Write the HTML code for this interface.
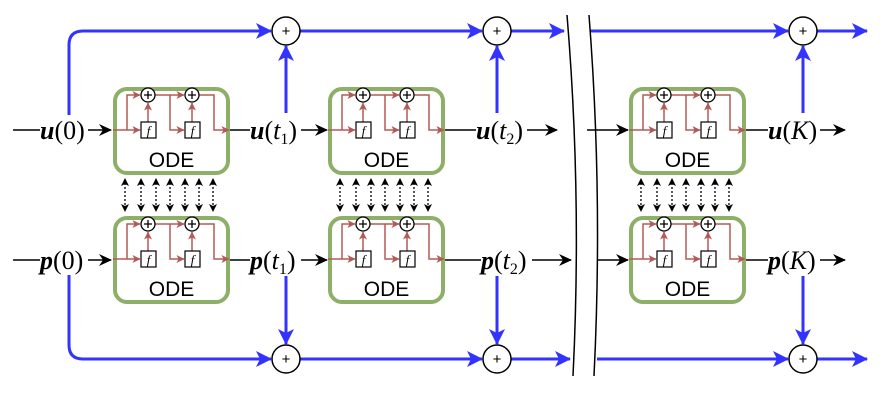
<!DOCTYPE html>
<html><head><meta charset="utf-8"><style>body{margin:0;background:#fff}svg{display:block}</style></head>
<body>
<svg width="888" height="401" viewBox="0 0 888 401" xmlns="http://www.w3.org/2000/svg">
<defs>
<marker id="ab" markerWidth="13" markerHeight="12" refX="12" refY="6" orient="auto" markerUnits="userSpaceOnUse"><path d="M0,0 L13,6 L0,12 L4,6z" fill="#000"/></marker>
<marker id="abs" markerWidth="8" markerHeight="8" refX="7" refY="4" orient="auto-start-reverse" markerUnits="userSpaceOnUse"><path d="M0,0 L8,4 L0,8 L2,4z" fill="#000"/></marker>
<marker id="ar" markerWidth="8" markerHeight="8" refX="7.5" refY="4" orient="auto" markerUnits="userSpaceOnUse"><path d="M0,0 L8,4 L0,8 L2,4z" fill="#b35a57"/></marker>
<marker id="abl" markerWidth="16" markerHeight="16" refX="15" refY="8" orient="auto" markerUnits="userSpaceOnUse"><path d="M0,0 L16,8 L0,16 L4,8z" fill="#3333ff"/></marker>
<g id="ode">
<rect x="2" y="2" width="113" height="84" rx="12" fill="#fff" stroke="#8daf68" stroke-width="4"/>
<g stroke="#b35a57" stroke-width="1.5" fill="none">
<path d="M0,43 H27" marker-end="url(#ar)"/>
<path d="M14,43 V8 H27" marker-end="url(#ar)"/>
<path d="M35,35 V16" marker-end="url(#ar)"/>
<path d="M42,8 H71" marker-end="url(#ar)"/>
<path d="M57,8 V43 H71" marker-end="url(#ar)"/>
<path d="M79,35 V16" marker-end="url(#ar)"/>
<path d="M86,8 H101 V43 H116" marker-end="url(#ar)"/>
</g>
<rect x="28" y="35" width="15" height="16" fill="#fff" stroke="#000" stroke-width="1.2"/>
<rect x="72" y="35" width="15" height="16" fill="#fff" stroke="#000" stroke-width="1.2"/>
<text x="35.5" y="48" font-family="Liberation Serif" font-style="italic" font-size="13" text-anchor="middle">f</text>
<text x="79.5" y="48" font-family="Liberation Serif" font-style="italic" font-size="13" text-anchor="middle">f</text>
<circle cx="35" cy="8" r="7" fill="#fff" stroke="#000" stroke-width="1.3"/>
<circle cx="79" cy="8" r="7" fill="#fff" stroke="#000" stroke-width="1.3"/>
<path d="M31,8 H39 M35,4 V12 M75,8 H83 M79,4 V12" stroke="#000" stroke-width="1.3"/>
<text x="58.5" y="80" font-family="Liberation Sans" font-size="21" text-anchor="middle">ODE</text>
</g>
<g id="dots" stroke="#000" stroke-width="1.3" stroke-dasharray="2,2" fill="none">
<path d="M12,179 V211" marker-start="url(#abs)" marker-end="url(#abs)"/>
<path d="M28,179 V211" marker-start="url(#abs)" marker-end="url(#abs)"/>
<path d="M43,179 V211" marker-start="url(#abs)" marker-end="url(#abs)"/>
<path d="M57,179 V211" marker-start="url(#abs)" marker-end="url(#abs)"/>
<path d="M72,179 V211" marker-start="url(#abs)" marker-end="url(#abs)"/>
<path d="M86,179 V211" marker-start="url(#abs)" marker-end="url(#abs)"/>
<path d="M100,179 V211" marker-start="url(#abs)" marker-end="url(#abs)"/>
</g>
</defs>

<use href="#ode" x="113" y="87"/><use href="#ode" x="113" y="216"/>
<use href="#ode" x="328" y="87"/><use href="#ode" x="328" y="216"/>
<use href="#ode" x="629" y="87"/><use href="#ode" x="629" y="216"/>
<use href="#dots" x="113" y="0"/>
<use href="#dots" x="328" y="0"/>
<use href="#dots" x="629" y="0"/>

<g stroke="#000" stroke-width="1.5" fill="none">
<path d="M13,130 H40"/><path d="M88,130 H111" marker-end="url(#ab)"/>
<path d="M230,130 H250"/><path d="M301,130 H327" marker-end="url(#ab)"/>
<path d="M445,130 H476"/><path d="M527,130 H557" marker-end="url(#ab)"/>
<path d="M587,130 H628" marker-end="url(#ab)"/>
<path d="M746,130 H768"/><path d="M820,130 H845" marker-end="url(#ab)"/>
<path d="M13,260 H40"/><path d="M88,260 H111" marker-end="url(#ab)"/>
<path d="M230,260 H250"/><path d="M301,260 H327" marker-end="url(#ab)"/>
<path d="M445,260 H481"/><path d="M532,260 H571" marker-end="url(#ab)"/>
<path d="M597,260 H628" marker-end="url(#ab)"/>
<path d="M746,260 H768"/><path d="M820,260 H845" marker-end="url(#ab)"/>
</g>
<g font-family="Liberation Serif" font-size="26">
<text x="40" y="139"><tspan font-weight="bold" font-style="italic">u</tspan>(0)</text>
<text x="250" y="139"><tspan font-weight="bold" font-style="italic">u</tspan>(<tspan font-style="italic">t</tspan><tspan font-size="16" dy="5">1</tspan><tspan dy="-5">)</tspan></text>
<text x="476" y="139"><tspan font-weight="bold" font-style="italic">u</tspan>(<tspan font-style="italic">t</tspan><tspan font-size="16" dy="5">2</tspan><tspan dy="-5">)</tspan></text>
<text x="768" y="139"><tspan font-weight="bold" font-style="italic">u</tspan>(<tspan font-style="italic">K</tspan>)</text>
<text x="40" y="269"><tspan font-weight="bold" font-style="italic">p</tspan>(0)</text>
<text x="250" y="269"><tspan font-weight="bold" font-style="italic">p</tspan>(<tspan font-style="italic">t</tspan><tspan font-size="16" dy="5">1</tspan><tspan dy="-5">)</tspan></text>
<text x="481" y="269"><tspan font-weight="bold" font-style="italic">p</tspan>(<tspan font-style="italic">t</tspan><tspan font-size="16" dy="5">2</tspan><tspan dy="-5">)</tspan></text>
<text x="768" y="269"><tspan font-weight="bold" font-style="italic">p</tspan>(<tspan font-style="italic">K</tspan>)</text>
</g>

<g stroke="#3333ff" stroke-width="3" fill="none">
<path d="M69,115 V45 Q69,31 83,31 H271" marker-end="url(#abl)"/>
<path d="M286,113 V46" marker-end="url(#abl)"/>
<path d="M300,31 H482" marker-end="url(#abl)"/>
<path d="M497,113 V46" marker-end="url(#abl)"/>
<path d="M511,31 H564" marker-end="url(#abl)"/>
<path d="M590,31 H788" marker-end="url(#abl)"/>
<path d="M803,113 V46" marker-end="url(#abl)"/>
<path d="M817,31 H867" marker-end="url(#abl)"/>
<path d="M69,275 V345 Q69,359 83,359 H271" marker-end="url(#abl)"/>
<path d="M286,276 V344" marker-end="url(#abl)"/>
<path d="M300,359 H482" marker-end="url(#abl)"/>
<path d="M497,276 V344" marker-end="url(#abl)"/>
<path d="M511,359 H570" marker-end="url(#abl)"/>
<path d="M597,359 H788" marker-end="url(#abl)"/>
<path d="M803,276 V344" marker-end="url(#abl)"/>
<path d="M817,359 H867" marker-end="url(#abl)"/>
</g>
<g fill="#fff" stroke="#000" stroke-width="1.5">
<circle cx="286" cy="31" r="14"/><circle cx="497" cy="31" r="14"/><circle cx="803" cy="31" r="14"/>
<circle cx="286" cy="359" r="14"/><circle cx="497" cy="359" r="14"/><circle cx="803" cy="359" r="14"/>
</g>
<g font-family="Liberation Sans" font-size="15" text-anchor="middle">
<text x="286" y="36">+</text><text x="497" y="36">+</text><text x="803" y="36">+</text>
<text x="286" y="364">+</text><text x="497" y="364">+</text><text x="803" y="364">+</text>
</g>
<g stroke="#000" stroke-width="1.5" fill="none">
<path d="M567,15 Q582,195 573,376"/>
<path d="M589,15 Q603,195 594,376"/>
</g>
</svg>
</body></html>
